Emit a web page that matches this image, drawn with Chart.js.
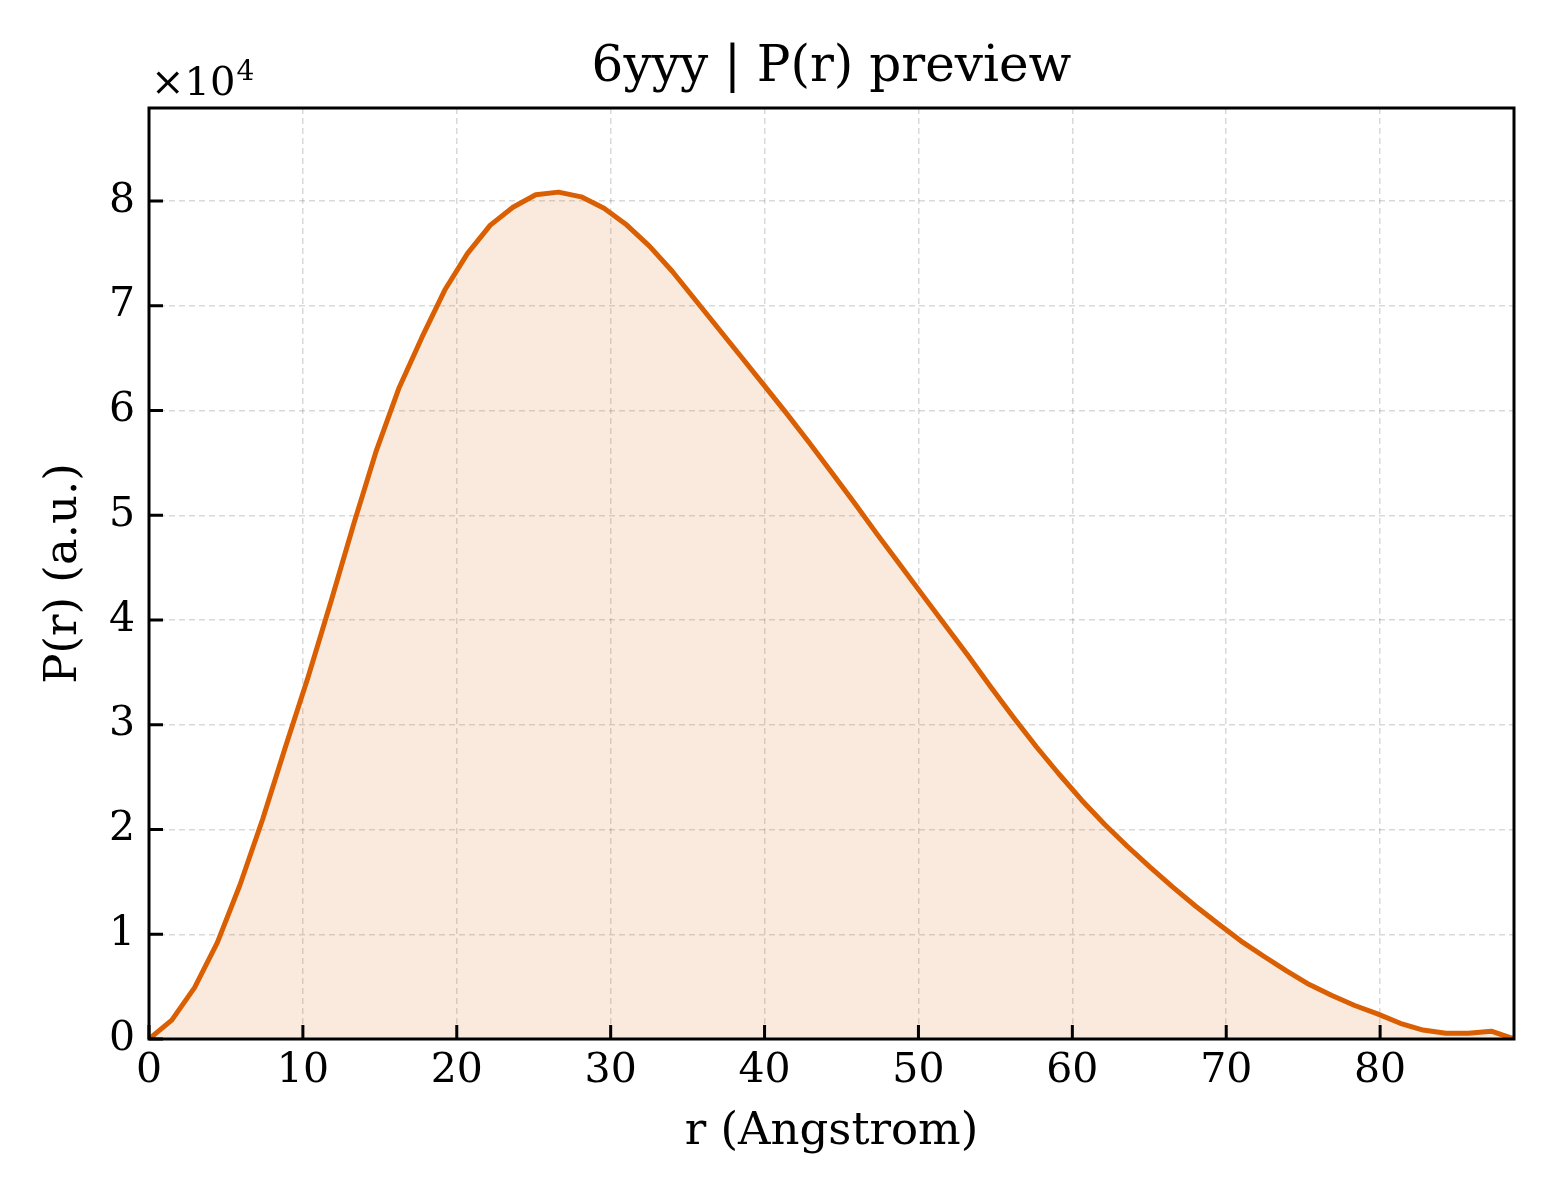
<!DOCTYPE html>
<html>
<head>
<meta charset="utf-8">
<script src="https://cdn.jsdelivr.net/npm/chart.js@4.4.1/dist/chart.umd.min.js"></script>
<style>
  html, body { margin: 0; padding: 0; background: #ffffff; }
  #wrap { width: 1560px; height: 1200px; }
</style>
</head>
<body>
<div id="wrap"><canvas id="myChart" width="1560" height="1200"></canvas></div>
<script>
    const rValues = [0, 1.48, 2.96, 4.44, 5.91, 7.39, 8.87, 10.35, 11.83, 13.31,
        14.78, 16.26, 17.74, 19.22, 20.70, 22.18, 23.65, 25.13, 26.61, 28.09,
        29.57, 31.05, 32.52, 34.00, 35.48, 36.96, 38.44, 39.92, 41.39, 42.87,
        44.35, 45.83, 47.31, 48.79, 50.26, 51.74, 53.22, 54.70, 56.18, 57.66,
        59.13, 60.61, 62.09, 63.57, 65.05, 66.53, 68.00, 69.48, 70.96, 72.44,
        73.92, 75.40, 76.87, 78.35, 79.83, 81.31, 82.79, 84.27, 85.74, 87.22, 88.70]
    const prValues = [0, 0.18, 0.49, 0.92, 1.47, 2.10, 2.79, 3.46, 4.18, 4.92,
        5.62, 6.22, 6.70, 7.15, 7.50, 7.77, 7.94, 8.06, 8.085, 8.04,
        7.93, 7.77, 7.57, 7.33, 7.06, 6.79, 6.52, 6.25, 5.98, 5.70,
        5.41, 5.12, 4.82, 4.53, 4.24, 3.95, 3.66, 3.36, 3.07, 2.79,
        2.53, 2.28, 2.05, 1.84, 1.64, 1.45, 1.27, 1.10, 0.935, 0.79,
        0.65, 0.52, 0.415, 0.32, 0.24, 0.15, 0.085, 0.055, 0.055, 0.075, 0]

    // axis setup
    const xMax = 88.7
    const yMax = 8.888
    const xStep = 10
    const yStep = 1
    const yExponent = 4

    const titleText = '6yyy | P(r) preview'
    const xLabel = 'r (Angstrom)'
    const yLabel = 'P(r) (a.u.)'
    const serif = "'DejaVu Serif', 'Liberation Serif', serif"

    // frame, inward ticks and the texts around the axes
    const decorations = {
        id: 'decorations',
        afterDraw(chart) {
            const ctx = chart.ctx
            const area = chart.chartArea
            const xs = chart.scales.x
            const ys = chart.scales.y
            ctx.save()
            ctx.strokeStyle = '#000000'
            ctx.lineWidth = 3

            // inward tick marks
            ctx.beginPath()
            xs.ticks.forEach(t => {
                let px = xs.getPixelForValue(t.value)
                ctx.moveTo(px, area.bottom)
                ctx.lineTo(px, area.bottom - 14)
            })
            ys.ticks.forEach(t => {
                let py = ys.getPixelForValue(t.value)
                ctx.moveTo(area.left, py)
                ctx.lineTo(area.left + 14, py)
            })
            ctx.stroke()

            // box
            ctx.strokeRect(area.left, area.top, area.right - area.left, area.bottom - area.top)

            ctx.fillStyle = '#000000'
            ctx.textAlign = 'center'
            ctx.textBaseline = 'middle'

            // title
            ctx.font = '50px ' + serif
            ctx.fillText(titleText, (area.left + area.right) / 2, 68)

            // axis labels
            ctx.font = '45px ' + serif
            ctx.fillText(xLabel, (area.left + area.right) / 2, 1132)
            ctx.save()
            ctx.translate(64, (area.top + area.bottom) / 2)
            ctx.rotate(-Math.PI / 2)
            ctx.fillText(yLabel, 0, 0)
            ctx.restore()

            // offset text  x10^4
            ctx.textAlign = 'left'
            ctx.textBaseline = 'alphabetic'
            ctx.font = '40px ' + serif
            ctx.fillText('×10', area.left + 2, 95)
            let w = ctx.measureText('×10').width
            ctx.font = '28px ' + serif
            ctx.fillText(String(yExponent), area.left + 2 + w + 1, 80)
            ctx.restore()
        }
    }

    const ctx = document.getElementById('myChart').getContext('2d')
    const myChart = new Chart(ctx, {
        type: 'line',
        data: {
            datasets: [{
                data: rValues.map((r, i) => ({ x: r, y: prValues[i] })),
                borderColor: '#D95F02',
                borderWidth: 5,
                backgroundColor: 'rgba(217, 95, 2, 0.13)',
                fill: 'origin',
                pointRadius: 0,
                tension: 0,
                borderJoinStyle: 'round',
            }]
        },
        options: {
            responsive: false,
            animation: false,
            devicePixelRatio: 1,
            layout: { padding: { top: 108, right: 46, left: 0, bottom: 0 } },
            plugins: {
                legend: { display: false },
                tooltip: { enabled: false },
                title: { display: false },
            },
            scales: {
                x: {
                    type: 'linear',
                    min: 0,
                    max: xMax,
                    afterFit: (scale) => { scale.height = 161 },
                    ticks: {
                        stepSize: xStep,
                        includeBounds: false,
                        maxRotation: 0,
                        color: '#000000',
                        padding: 8,
                        font: { family: serif, size: 41 },
                    },
                    grid: {
                        color: 'rgba(0, 0, 0, 0.15)',
                        lineWidth: 1.5,
                        drawTicks: false,
                    },
                    border: { display: false, dash: [6, 4] },
                },
                y: {
                    min: 0,
                    max: yMax,
                    afterFit: (scale) => { scale.width = 149 },
                    ticks: {
                        stepSize: yStep,
                        includeBounds: false,
                        color: '#000000',
                        padding: 14,
                        font: { family: serif, size: 41 },
                        callback: (v) => String(v),
                    },
                    grid: {
                        color: 'rgba(0, 0, 0, 0.15)',
                        lineWidth: 1.5,
                        drawTicks: false,
                    },
                    border: { display: false, dash: [6, 4] },
                },
            },
        },
        plugins: [decorations],
    })
</script>
</body>
</html>
